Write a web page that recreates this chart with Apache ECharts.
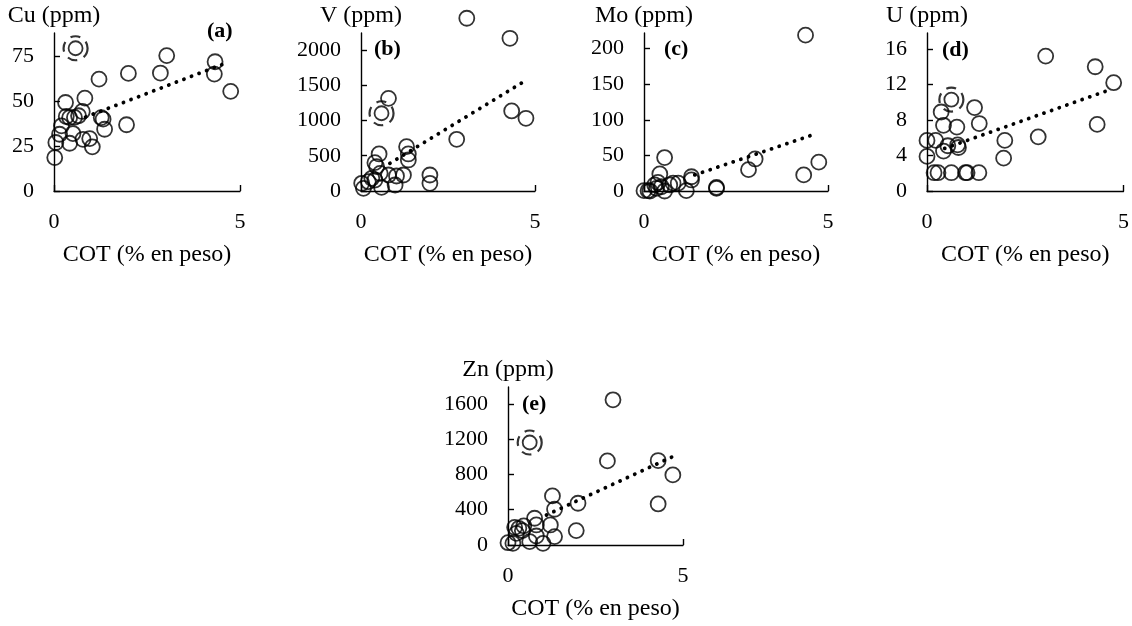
<!DOCTYPE html>
<html>
<head>
<meta charset="utf-8">
<title>COT vs metales</title>
<script src="https://cdn.jsdelivr.net/npm/echarts@6/dist/echarts.min.js"></script>
<style>
  html, body { margin: 0; padding: 0; background: #fff; }
  #chart { width: 1132px; height: 626px; }
</style>
</head>
<body>
<div id="chart"></div>
<script>
// datos: COT (% en peso) vs metal (ppm)

// (a) Cu
var cotA = [0.02, 0.05, 0.15, 0.2, 0.31, 0.33, 0.42, 0.42, 0.51, 0.55, 0.66, 0.76, 0.78, 0.83, 0.96, 1.03, 1.21, 1.27, 1.32, 1.36, 1.95, 2.0, 2.86, 3.03, 4.31, 4.33, 4.75];
var cuA = [18.6, 27, 31.6, 36.3, 49.3, 41.5, 40.9, 26.6, 32, 41, 41.9, 44.3, 28.8, 51.7, 29.2, 24.6, 62.3, 40.9, 40, 34.4, 36.9, 65.5, 65.7, 75.4, 65.1, 72, 55.5];
var outA = [0.58, 79.5];
var trendA = [[0.85, 41.2], [4.55, 70.7]];

// (b) V
var cotB = [0.02, 0.07, 0.21, 0.31, 0.4, 0.4, 0.45, 0.52, 0.55, 0.59, 0.79, 0.79, 0.98, 1.02, 1.22, 1.31, 1.36, 1.36, 1.98, 1.98, 2.75, 3.04, 4.28, 4.33, 4.74];
var vB = [109, 38, 132, 180, 156, 402, 345, 525, 250, 52, 1314, 227, 85, 213, 227, 629, 525, 440, 227, 109, 733, 2449, 2165, 1135, 1031];
var outB = [0.59, 1102];
var trendB = [[0.83, 392], [4.71, 1560]];

// (c) Mo
var cotC = [0, 0.11, 0.16, 0.29, 0.34, 0.38, 0.43, 0.47, 0.56, 0.56, 0.7, 0.79, 0.93, 1.15, 1.29, 1.29, 1.97, 1.97, 2.84, 3.02, 4.34, 4.39, 4.75];
var moC = [0.5, 0.5, 0, 8.5, 3.8, 12, 24, 6, 47, 0, 8.5, 11, 11, 0.5, 20, 15.5, 3.8, 5, 30, 45, 22.6, 219, 40.5];
var trendC = [[1.38, 22.6], [4.65, 80]];

// (d) U
var cotD = [0, 0, 0.18, 0.22, 0.28, 0.36, 0.42, 0.42, 0.53, 0.62, 0.76, 0.78, 0.8, 0.98, 1.02, 1.21, 1.32, 1.33, 1.95, 1.98, 2.83, 3.02, 4.28, 4.33, 4.75];
var uD = [5.7, 3.9, 2.06, 5.7, 2.06, 8.9, 7.4, 4.5, 5.1, 2.06, 7.2, 5.2, 4.9, 2.06, 2.06, 9.4, 2.06, 7.6, 3.7, 5.7, 6.1, 15.2, 14.0, 7.5, 12.2];
var outD = [0.62, 10.3];
var trendD = [[0.45, 4.8], [4.71, 11.5]];

// (e) Zn
var cotE = [0, 0.14, 0.19, 0.24, 0.31, 0.41, 0.45, 0.62, 0.76, 0.81, 0.81, 1.0, 1.21, 1.27, 1.33, 1.33, 1.95, 2.0, 2.84, 3.0, 4.29, 4.29, 4.71];
var znE = [26, 19, 200, 132, 189, 163, 216, 38, 303, 227, 102, 19, 227, 556, 405, 95, 163, 473, 953, 1645, 957, 465, 794];
var outE = [0.62, 1161];
var trendE = [[1.1, 340], [4.71, 1002]];

// marcas del eje y
var ticksA = [0, 25, 50, 75];
var ticksB = [0, 500, 1000, 1500, 2000];
var ticksC = [0, 50, 100, 150, 200];
var ticksD = [0, 4, 8, 12, 16];
var ticksE = [0, 400, 800, 1200, 1600];

(function () {
  var myChart = echarts.init(document.getElementById('chart'));
  var FONT = 'Liberation Serif';

  function zip(xs, ys) {
    var out = [];
    for (var i = 0; i < xs.length; ++i) out.push([xs[i], ys[i]]);
    return out;
  }
  // sin separador de miles
  function plain(v) { return String(v); }

  // paneles: posicion del grid (px) y datos
  var panels = [
    { grid: [54, 33, 186, 158], name: 'Cu (ppm)', max: 88, ticks: ticksA, pts: zip(cotA, cuA), out: outA, trend: trendA, tag: '(a)', tagPos: [207, 20] },
    { grid: [361, 33, 174, 158], name: 'V (ppm)', max: 2240, ticks: ticksB, pts: zip(cotB, vB), out: outB, trend: trendB, tag: '(b)', tagPos: [374, 38] },
    { grid: [644, 33, 184, 158], name: 'Mo (ppm)', max: 222, ticks: ticksC, pts: zip(cotC, moC), out: null, trend: trendC, tag: '(c)', tagPos: [664, 38] },
    { grid: [927, 33, 198, 158], name: 'U (ppm)', max: 17.8, ticks: ticksD, pts: zip(cotD, uD), out: outD, trend: trendD, tag: '(d)', tagPos: [942, 39] },
    { grid: [508, 387, 175, 158], name: 'Zn (ppm)', max: 1790, ticks: ticksE, pts: zip(cotE, znE), out: outE, trend: trendE, tag: '(e)', tagPos: [522, 393] }
  ];

  var grids = [], xAxes = [], yAxes = [], series = [], titles = [];

  panels.forEach(function (p, i) {
    grids.push({ left: p.grid[0], top: p.grid[1], width: p.grid[2], height: p.grid[3] });

    xAxes.push({
      gridIndex: i,
      type: 'value',
      min: 0, max: 5, interval: 5,
      name: 'COT (% en peso)',
      nameLocation: 'middle',
      nameGap: 52,
      nameTextStyle: { fontFamily: FONT, fontSize: 24, color: '#000' },
      axisLine: { show: true, onZero: false, lineStyle: { color: '#000', width: 1.4 } },
      axisTick: { show: true, inside: true, length: 6, lineStyle: { color: '#000', width: 1.4 } },
      axisLabel: { fontFamily: FONT, fontSize: 22, color: '#000', margin: 20, formatter: plain },
      splitLine: { show: false }
    });

    yAxes.push({
      gridIndex: i,
      type: 'value',
      min: 0, max: p.max,
      name: p.name,
      nameLocation: 'end',
      nameGap: 5,
      nameTextStyle: { fontFamily: FONT, fontSize: 24, color: '#000' },
      axisLine: { show: true, onZero: false, lineStyle: { color: '#000', width: 1.4 } },
      axisTick: { show: true, inside: true, length: 6, customValues: p.ticks, lineStyle: { color: '#000', width: 1.4 } },
      axisLabel: { fontFamily: FONT, fontSize: 22, color: '#000', margin: 20, customValues: p.ticks, formatter: plain },
      splitLine: { show: false }
    });

    // linea de tendencia punteada
    series.push({
      type: 'line',
      xAxisIndex: i, yAxisIndex: i,
      data: p.trend,
      symbol: 'none',
      silent: true,
      lineStyle: { color: '#000', width: 3.8, type: [0.1, 8], cap: 'round' },
      z: 1
    });

    // muestras
    series.push({
      type: 'scatter',
      xAxisIndex: i, yAxisIndex: i,
      data: p.pts,
      symbol: 'circle',
      symbolSize: 15,
      clip: false,
      itemStyle: { color: 'rgba(255,255,255,0)', borderColor: '#000', borderWidth: 1.8 },
      z: 2
    });

    // muestra anomala (circulo punteado)
    if (p.out) {
      series.push({
        type: 'scatter',
        xAxisIndex: i, yAxisIndex: i,
        data: [p.out],
        symbol: 'circle',
        symbolSize: 14,
        clip: false,
        itemStyle: { color: 'rgba(255,255,255,0)', borderColor: '#000', borderWidth: 1.8 },
        z: 2
      });
      series.push({
        type: 'scatter',
        xAxisIndex: i, yAxisIndex: i,
        data: [p.out],
        symbol: 'circle',
        symbolSize: 24,
        clip: false,
        itemStyle: { color: 'rgba(255,255,255,0)', borderColor: '#000', borderWidth: 2.2, borderType: [10, 7] },
        z: 2
      });
    }

    titles.push({
      text: p.tag,
      left: p.tagPos[0], top: p.tagPos[1],
      padding: 0,
      textStyle: { fontFamily: FONT, fontSize: 22, fontWeight: 'bold', color: '#000' }
    });
  });

  var option = {
    backgroundColor: '#fff',
    animation: false,
    title: titles,
    grid: grids,
    xAxis: xAxes,
    yAxis: yAxes,
    series: series
  };

  myChart.setOption(option);
  window.addEventListener('resize', function () {
    myChart.resize();
  });
})();
</script>
</body>
</html>
